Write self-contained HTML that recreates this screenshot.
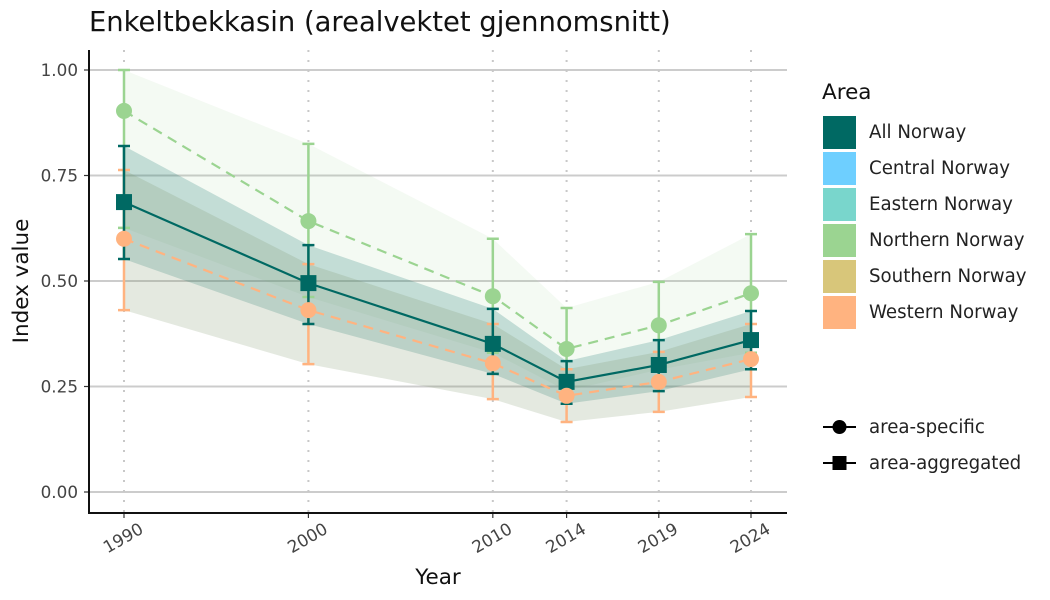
<!DOCTYPE html>
<html><head><meta charset="utf-8"><style>
body{margin:0;background:#fff}
svg{display:block;font-family:"DejaVu Sans","Liberation Sans",sans-serif}
</style></head><body>
<svg id="chart" width="1050" height="600" viewBox="0 0 1050 600" xmlns="http://www.w3.org/2000/svg">
<text x="89" y="31" font-size="27.4" fill="#111">Enkeltbekkasin (arealvektet gjennomsnitt)</text>
<g id="grid"></g><g id="ribbons"></g><g id="bars"></g><g id="lines"></g><g id="points"></g><g id="axes"></g>
<text x="438" y="584" font-size="21.5" text-anchor="middle" fill="#111">Year</text>
<text transform="translate(28,281) rotate(-90)" font-size="21.5" text-anchor="middle" fill="#111">Index value</text>
<g id="legend"></g>
</svg>
<script>
const years=[1990,2000,2010,2014,2019,2024];
const yTicks=[0,0.25,0.5,0.75,1.0];
const yTickLabels=["0.00","0.25","0.50","0.75","1.00"];
const allMean=[0.687,0.495,0.351,0.261,0.301,0.360];
const allLo=[0.552,0.398,0.280,0.209,0.239,0.291];
const allHi=[0.820,0.585,0.434,0.310,0.360,0.429];
const northMean=[0.903,0.642,0.464,0.339,0.395,0.471];
const northLo=[0.626,0.462,0.330,0.240,0.290,0.330];
const northHi=[1.000,0.825,0.600,0.436,0.498,0.611];
const westMean=[0.600,0.431,0.305,0.228,0.261,0.315];
const westLo=[0.431,0.303,0.220,0.166,0.190,0.225];
const westHi=[0.763,0.540,0.398,0.291,0.332,0.398];
const areas=["All Norway","Central Norway","Eastern Norway","Northern Norway","Southern Norway","Western Norway"];
const areaColors=["#006963","#6ecfff","#79d6cc","#9bd491","#d8c67a","#ffb380"];

const NS="http://www.w3.org/2000/svg";
const X=y=>124+(y-1990)*(627/34);
const Y=v=>492-v*422;
function el(tag,attrs,parent){const e=document.createElementNS(NS,tag);for(const k in attrs)e.setAttribute(k,attrs[k]);parent.appendChild(e);return e;}
const grid=document.getElementById('grid'),rib=document.getElementById('ribbons'),bars=document.getElementById('bars'),lines=document.getElementById('lines'),pts=document.getElementById('points'),axes=document.getElementById('axes'),leg=document.getElementById('legend');

yTicks.forEach((t,i)=>{
 const l=el('line',{x1:89,x2:787,y1:Y(t),y2:Y(t),stroke:'#cccccc','stroke-width':2},grid);
 
 
 const tx=el('text',{x:78,y:Y(t)+6,'font-size':16.8,'text-anchor':'end',fill:'#444'},axes);
 tx.textContent=yTickLabels[i];
 
 
 const tk=el('line',{x1:84,x2:89,y1:Y(t),y2:Y(t),stroke:'#333','stroke-width':1.2},axes);
 
 
});
years.forEach(yr=>{
 const l=el('line',{x1:X(yr),x2:X(yr),y1:50,y2:513,stroke:'#c8c8c8','stroke-width':2,'stroke-dasharray':'2 8'},grid);
 
 
 const tk=el('line',{x1:X(yr),x2:X(yr),y1:513,y2:518,stroke:'#333','stroke-width':1.2},axes);
 
 
 const tx=el('text',{transform:`translate(${X(yr)+2},${543}) rotate(-30)`,'font-size':16.8,'text-anchor':'middle',fill:'#444'},axes);
 tx.textContent=yr;
 
 
});
const ax1=el('line',{x1:89,x2:89,y1:50,y2:514,stroke:'#111','stroke-width':2},axes);


const ax2=el('line',{x1:88,x2:787,y1:513,y2:513,stroke:'#111','stroke-width':2},axes);



function ribbon(lo,hi,fill,name){
 let d=years.map((y,i)=>(i?'L':'M')+X(y)+','+Y(hi[i])).join('');
 d+=years.slice().reverse().map((y,j)=>{const i=years.length-1-j;return 'L'+X(y)+','+Y(lo[i]);}).join('')+'Z';
 const p=el('path',{d:d,fill:fill},rib);
 
 
}
ribbon(northLo,northHi,'rgba(155,212,145,0.11)','northern-ribbon');
ribbon(allLo,allHi,'rgba(0,105,99,0.2)','all-norway-ribbon');
ribbon(westLo,westHi,'rgba(120,145,100,0.2)','western-ribbon');

function errBars(lo,hi,color,name){
 years.forEach((y,i)=>{
  const b=el('path',{d:`M${X(y)},${Y(lo[i])}V${Y(hi[i])}M${X(y)-6},${Y(lo[i])}h12M${X(y)-6},${Y(hi[i])}h12`,stroke:color,'stroke-width':2.5,fill:'none'},bars);
  
  
 });
}
function line(mean,color,dash,name){
 const l=el('polyline',{points:years.map((y,i)=>X(y)+','+Y(mean[i])).join(' '),fill:'none',stroke:color,'stroke-width':2.2},lines);
 if(dash)l.setAttribute('stroke-dasharray',dash);
 
 
}
function points(mean,color,shape,name){
 years.forEach((y,i)=>{
  let m;
  if(shape==='circle')m=el('circle',{cx:X(y),cy:Y(mean[i]),r:8,fill:color},pts);
  else m=el('rect',{x:X(y)-8,y:Y(mean[i])-8,width:16,height:16,fill:color},pts);
  
  
 });
}
errBars(northLo,northHi,'#9bd491','northern');
errBars(westLo,westHi,'#ffb380','western');
errBars(allLo,allHi,'#006963','all-norway');
line(northMean,'#9bd491','10 7','northern');
line(westMean,'#ffb380','10 7','western');
line(allMean,'#006963',null,'all-norway');
points(northMean,'#9bd491','circle','northern');
points(allMean,'#006963','square','all-norway');
points(westMean,'#ffb380','circle','western');

const lt=el('text',{x:822,y:99,'font-size':21.5,fill:'#111'},leg);
lt.textContent='Area';


areas.forEach((a,i)=>{
 const y0=116+i*36;
 const r=el('rect',{x:823,y:y0,width:33,height:33,fill:areaColors[i]},leg);
 
 
 const t=el('text',{x:869,y:y0+22,'font-size':18.2,fill:'#222'},leg);
 t.textContent=a;
 
 
});
[['area-specific','circle'],['area-aggregated','square']].forEach((s,i)=>{
 const y0=427+i*36;
 const l=el('line',{x1:823,x2:856,y1:y0,y2:y0,stroke:'#000','stroke-width':2},leg);
 
 
 let m;
 if(s[1]==='circle')m=el('circle',{cx:839.5,cy:y0,r:7,fill:'#000'},leg);
 else m=el('rect',{x:832.5,y:y0-7,width:14,height:14,fill:'#000'},leg);
 
 
 const t=el('text',{x:869,y:y0+6,'font-size':18.2,fill:'#222'},leg);
 t.textContent=s[0];
 
 
});
</script>
</body></html>
